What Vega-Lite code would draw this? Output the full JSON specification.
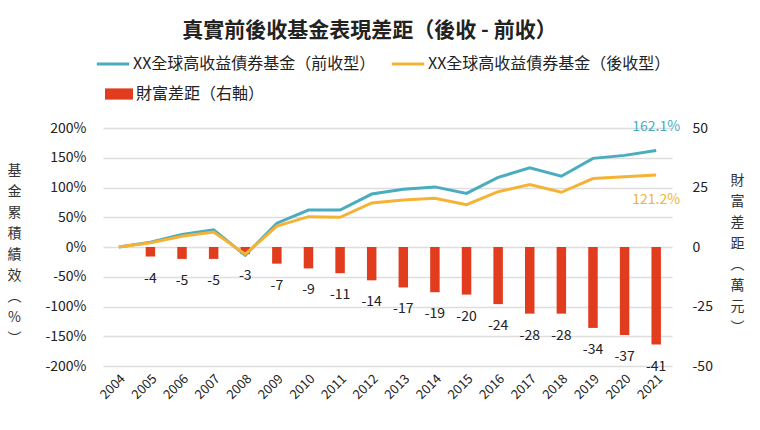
{
  "$schema": "https://vega.github.io/schema/vega-lite/v6.json",
  "autosize": "none",
  "width": 569,
  "height": 238,
  "padding": {"top": 128, "left": 103, "right": 88, "bottom": 64},
  "background": "white",
  "config": {
    "font": "Noto Sans CJK TC",
    "view": {"stroke": null},
    "locale": {"number": {"decimal": ".", "thousands": ",", "grouping": [3], "currency": ["$", ""], "minus": "-"}},
    "axis": {"labelFont": "Noto Sans CJK TC", "titleFont": "Noto Sans CJK TC"},
    "legend": {"labelFont": "Noto Sans CJK TC"}
  },
  "title": {
    "text": "真實前後收基金表現差距（後收 - 前收）",
    "fontSize": 21,
    "fontWeight": "bold",
    "color": "#222222",
    "anchor": "middle",
    "frame": "group",
    "dx": -18,
    "offset": 5
  },
  "datasets": {
    "lines": [
      {"year": "2004", "series": "XX全球高收益債券基金（前收型）", "pct": 0},
      {"year": "2005", "series": "XX全球高收益債券基金（前收型）", "pct": 8},
      {"year": "2006", "series": "XX全球高收益債券基金（前收型）", "pct": 21},
      {"year": "2007", "series": "XX全球高收益債券基金（前收型）", "pct": 29},
      {"year": "2008", "series": "XX全球高收益債券基金（前收型）", "pct": -14},
      {"year": "2009", "series": "XX全球高收益債券基金（前收型）", "pct": 40},
      {"year": "2010", "series": "XX全球高收益債券基金（前收型）", "pct": 62},
      {"year": "2011", "series": "XX全球高收益債券基金（前收型）", "pct": 62},
      {"year": "2012", "series": "XX全球高收益債券基金（前收型）", "pct": 89},
      {"year": "2013", "series": "XX全球高收益債券基金（前收型）", "pct": 97},
      {"year": "2014", "series": "XX全球高收益債券基金（前收型）", "pct": 101},
      {"year": "2015", "series": "XX全球高收益債券基金（前收型）", "pct": 90},
      {"year": "2016", "series": "XX全球高收益債券基金（前收型）", "pct": 117},
      {"year": "2017", "series": "XX全球高收益債券基金（前收型）", "pct": 133},
      {"year": "2018", "series": "XX全球高收益債券基金（前收型）", "pct": 119},
      {"year": "2019", "series": "XX全球高收益債券基金（前收型）", "pct": 149},
      {"year": "2020", "series": "XX全球高收益債券基金（前收型）", "pct": 154},
      {"year": "2021", "series": "XX全球高收益債券基金（前收型）", "pct": 162.1},
      {"year": "2004", "series": "XX全球高收益債券基金（後收型）", "pct": 0},
      {"year": "2005", "series": "XX全球高收益債券基金（後收型）", "pct": 7},
      {"year": "2006", "series": "XX全球高收益債券基金（後收型）", "pct": 18},
      {"year": "2007", "series": "XX全球高收益債券基金（後收型）", "pct": 25},
      {"year": "2008", "series": "XX全球高收益債券基金（後收型）", "pct": -12},
      {"year": "2009", "series": "XX全球高收益債券基金（後收型）", "pct": 35},
      {"year": "2010", "series": "XX全球高收益債券基金（後收型）", "pct": 51},
      {"year": "2011", "series": "XX全球高收益債券基金（後收型）", "pct": 50},
      {"year": "2012", "series": "XX全球高收益債券基金（後收型）", "pct": 74},
      {"year": "2013", "series": "XX全球高收益債券基金（後收型）", "pct": 79},
      {"year": "2014", "series": "XX全球高收益債券基金（後收型）", "pct": 82},
      {"year": "2015", "series": "XX全球高收益債券基金（後收型）", "pct": 71},
      {"year": "2016", "series": "XX全球高收益債券基金（後收型）", "pct": 93},
      {"year": "2017", "series": "XX全球高收益債券基金（後收型）", "pct": 105},
      {"year": "2018", "series": "XX全球高收益債券基金（後收型）", "pct": 92},
      {"year": "2019", "series": "XX全球高收益債券基金（後收型）", "pct": 115},
      {"year": "2020", "series": "XX全球高收益債券基金（後收型）", "pct": 118},
      {"year": "2021", "series": "XX全球高收益債券基金（後收型）", "pct": 121.2}
    ],
    "bars": [
      {"year": "2004", "gap": null},
      {"year": "2005", "gap": -4},
      {"year": "2006", "gap": -5},
      {"year": "2007", "gap": -5},
      {"year": "2008", "gap": -3},
      {"year": "2009", "gap": -7},
      {"year": "2010", "gap": -9},
      {"year": "2011", "gap": -11},
      {"year": "2012", "gap": -14},
      {"year": "2013", "gap": -17},
      {"year": "2014", "gap": -19},
      {"year": "2015", "gap": -20},
      {"year": "2016", "gap": -24},
      {"year": "2017", "gap": -28},
      {"year": "2018", "gap": -28},
      {"year": "2019", "gap": -34},
      {"year": "2020", "gap": -37},
      {"year": "2021", "gap": -41}
    ]
  },
  "layer": [
    {
      "data": {"name": "bars"},
      "transform": [{"filter": "datum.gap != null"}],
      "encoding": {
        "x": {
          "field": "year", "type": "ordinal",
          "scale": {"paddingInner": 0.7, "paddingOuter": 0.35},
          "axis": {
            "title": null, "labelAngle": -45, "labelFontSize": 13, "labelColor": "#222222",
            "ticks": false, "domain": false, "grid": false, "labelPadding": 6
          }
        },
        "y": {
          "field": "gap", "type": "quantitative",
          "scale": {"domain": [-50, 50], "nice": false, "zero": true},
          "axis": {
            "orient": "right", "values": [-50, -25, 0, 25, 50], "grid": false, "labelOverlap": false,
            "ticks": false, "domain": false, "labelFontSize": 14, "labelColor": "#222222",
            "labelPadding": 20, "labelAlign": "left",
            "title": ["財", "富", "差", "距", "︵", "萬", "元", "︶"],
            "titleAngle": 0, "titleFontSize": 14, "titleFontWeight": "normal", "titleColor": "#333333",
            "titleLineHeight": 21, "titleX": 65, "titleY": 52,
            "titleAlign": "center", "titleBaseline": "middle"
          }
        }
      },
      "layer": [
        {
          "mark": {"type": "bar"},
          "encoding": {
            "color": {
              "datum": "財富差距（右軸）",
              "scale": {"range": ["#e03c1d"]},
              "legend": {
                "title": null, "orient": "none", "legendX": 2, "legendY": -48,
                "symbolType": "M-1,-0.4H1V0.4H-1Z", "symbolSize": 784,
                "symbolStrokeWidth": 0, "labelFontSize": 16, "labelColor": "#222222", "labelOffset": 3,
                "labelLimit": 300
              }
            }
          }
        },
        {
          "mark": {"type": "text", "fontSize": 14, "color": "#222222", "dy": 22, "baseline": "middle"},
          "encoding": {
            "text": {"field": "gap", "type": "quantitative"}
          }
        }
      ]
    },
    {
      "data": {"name": "lines"},
      "encoding": {
        "x": {"field": "year", "type": "ordinal", "bandPosition": 0.5},
        "y": {
          "field": "pct", "type": "quantitative",
          "scale": {"domain": [-200, 200], "nice": false},
          "axis": {
            "orient": "left", "values": [-200, -150, -100, -50, 0, 50, 100, 150, 200], "labelOverlap": false,
            "labelExpr": "datum.label + '%'", "grid": true, "gridColor": "#dddddd", "gridWidth": 1.5,
            "ticks": false, "domain": false, "labelFontSize": 14, "labelColor": "#222222", "labelPadding": 17,
            "title": ["基", "金", "累", "積", "績", "效", "︵", "%", "︶"],
            "titleAngle": 0, "titleFontSize": 14, "titleFontWeight": "normal", "titleColor": "#333333",
            "titleLineHeight": 21, "titleX": -89, "titleY": 42,
            "titleAlign": "center", "titleBaseline": "middle"
          }
        }
      },
      "layer": [
        {
          "mark": {"type": "line", "strokeWidth": 3},
          "encoding": {
            "color": {
              "field": "series", "type": "nominal",
              "scale": {
                "domain": ["XX全球高收益債券基金（前收型）", "XX全球高收益債券基金（後收型）"],
                "range": ["#4aacbf", "#f5b335"]
              },
              "legend": {
                "title": null, "orient": "none", "direction": "horizontal", "legendX": -8, "legendY": -82,
                "symbolType": "stroke", "symbolSize": 1050, "symbolStrokeWidth": 3,
                "labelFontSize": 16, "labelColor": "#222222", "labelOffset": 2, "columnPadding": 9,
                "labelLimit": 300
              }
            }
          }
        },
        {
          "transform": [
            {"filter": "datum.year == '2021' && datum.series == 'XX全球高收益債券基金（前收型）'"},
            {"calculate": "format(datum.pct, '.1f') + '%'", "as": "label"}
          ],
          "mark": {"type": "text", "fontSize": 14, "color": "#4aacbf", "dy": -24, "baseline": "middle"},
          "encoding": {
            "text": {"field": "label", "type": "nominal"}
          }
        },
        {
          "transform": [
            {"filter": "datum.year == '2021' && datum.series == 'XX全球高收益債券基金（後收型）'"},
            {"calculate": "format(datum.pct, '.1f') + '%'", "as": "label"}
          ],
          "mark": {"type": "text", "fontSize": 14, "color": "#f5b335", "dy": 25, "baseline": "middle"},
          "encoding": {
            "text": {"field": "label", "type": "nominal"}
          }
        }
      ]
    }
  ],
  "resolve": {"scale": {"y": "independent", "color": "independent"}}
}
